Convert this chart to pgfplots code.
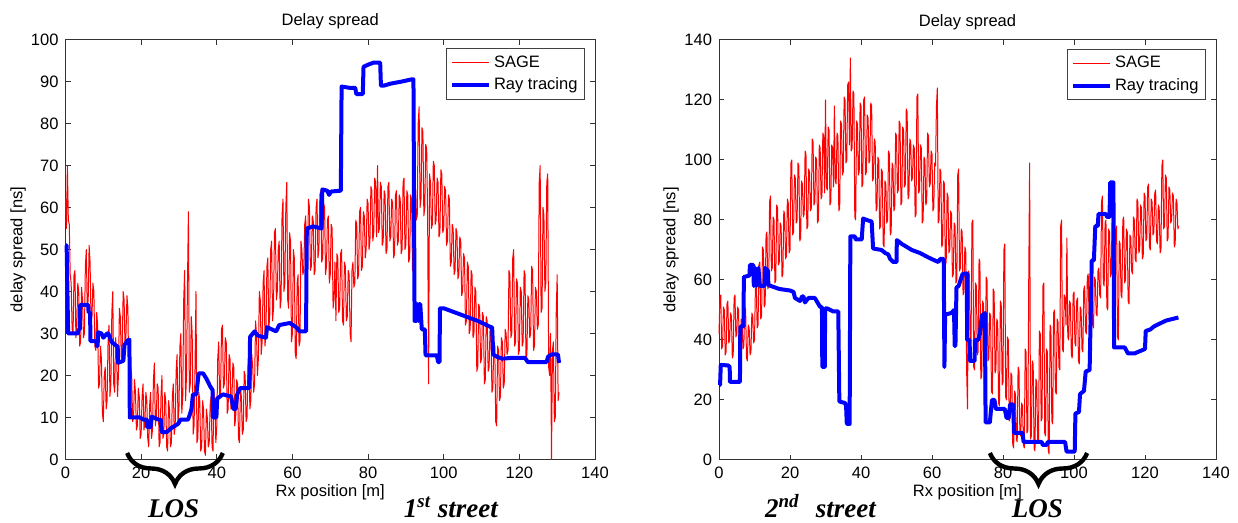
\documentclass[border=0pt]{standalone}
\usepackage{fontspec}
\setmainfont{Liberation Sans}
\newfontfamily\timesfont{Liberation Serif}
\usepackage{pgfplots}
\pgfplotsset{compat=1.18}
\usetikzlibrary{decorations.pathreplacing}

\pgfplotsset{
  matlab/.style={
    scale only axis,
    height=210pt,
    xmin=0,xmax=140,
    xtick={0,20,...,140},
    tick align=inside,
    major tick length=2.6pt,
    axis line style={black!80, line width=0.5pt},
    every tick/.style={black!80, line width=0.5pt},
    tick label style={font=\fontsize{8.25}{10}\selectfont},
    label style={font=\fontsize{8.25}{10}\selectfont},
    title style={font=\fontsize{8.25}{10}\selectfont, at={(axis description cs:0.5,1)}, anchor=center, yshift=2.9pt},
    xlabel style={at={(axis description cs:0.5,0)}, anchor=center, yshift=-16.3pt},
    /pgf/number format/assume math mode=true,
    clip=false,
    title={Delay spread},
    xlabel={Rx position [m]},
    ylabel={delay spread [ns]},
    legend cell align=left,
    legend style={at={(axis description cs:1,1)}, anchor=north east, xshift=-5pt, yshift=-4.5pt,
      draw=black!75, line width=0.5pt, font=\fontsize{8.25}{10}\selectfont,
      inner xsep=2pt, inner ysep=1.5pt, row sep=0.3pt,
      nodes={inner sep=1.5pt, text height=6.2pt, text depth=1.7pt}},
    legend image code/.code={\draw[#1] (0pt,0pt) -- (18.5pt,0pt);},
  },
  sage/.style={color=red, line width=0.5pt, line join=round},
  ray/.style={color=blue, line width=2pt, line join=round},
}
\tikzset{
  bracestyle/.style={decorate, decoration={brace, amplitude=15.5pt, mirror}, line width=2.2pt, black},
  annot/.style={font=\timesfont\bfseries\itshape\fontsize{13.5}{16}\selectfont, anchor=base},
}

\begin{document}
\begin{tikzpicture}
\useasboundingbox (0pt,0pt) rectangle (619pt,261.5pt);

% ---------------- Left panel: 1st street ----------------
\begin{axis}[matlab,
  at={(32.75pt,31.75pt)}, anchor=south west, width=264.75pt,
  ymin=0, ymax=100, ytick={0,10,...,100},
  ylabel style={at={(axis description cs:-0.0897,0.5)}, anchor=center},
]
\addplot[sage] coordinates {
(0,62)(0.25,55)(0.5,70)(0.75,57)(1,56)(1.25,44)(1.5,42)(1.75,31)(2,30)(2.25,44)(2.5,45)(2.75,29)(3,32)(3.25,42)(3.5,40)(3.75,27)(4,28)(4.25,41)(4.5,38)(4.75,29)
(5,30)(5.25,46)(5.5,50)(5.75,36)(6,38)(6.25,51)(6.5,47)(6.75,33)(7,34)(7.25,42)(7.5,40)(7.75,27)(8,26)(8.25,35)(8.5,32)(8.75,17)(9,18)(9.25,27)(9.5,24)(9.75,11)
(10,9)(10.25,20)(10.5,22)(10.75,12)(11,14)(11.25,28)(11.5,32)(11.75,15)(12,18)(12.25,35)(12.5,40)(12.75,18)(13,16)(13.25,29)(13.5,26)(13.75,15)(14,20)(14.25,36)(14.5,34)(14.75,24)
(15,27)(15.25,40)(15.5,38)(15.75,26)(16,30)(16.25,39)(16.5,36)(16.75,18)(17,14)(17.25,22)(17.5,20)(17.75,9)(18,10)(18.25,19)(18.5,16)(18.75,7)(19,8)(19.25,17)(19.5,15)(19.75,5)
(20,6)(20.25,15)(20.5,18)(20.75,7)(21,9)(21.25,16)(21.5,14)(21.75,5)(22,3)(22.25,13)(22.5,16)(22.75,5)(23,7)(23.25,19)(23.5,23)(23.75,8)(24,10)(24.25,18)(24.5,17)(24.75,3)
(25,4)(25.25,15)(25.5,20)(25.75,5)(26,6)(26.25,16)(26.5,14)(26.75,3)(27,2)(27.25,14)(27.5,12)(27.75,3)(28,4)(28.25,15)(28.5,18)(28.75,6)(29,8)(29.25,21)(29.5,25)(29.75,9)
(30,12)(30.25,27)(30.5,30)(30.75,11)(31,15)(31.25,38)(31.5,45)(31.75,14)(32,20)(32.25,42)(32.5,59)(32.75,16)(33,18)(33.25,34)(33.5,30)(33.75,6)(34,8)(34.25,22)(34.5,40)(34.75,4)
(35,5)(35.25,16)(35.5,14)(35.75,2)(36,3)(36.25,14)(36.5,12)(36.75,2)(37,1)(37.25,12)(37.5,10)(37.75,3)(38,4)(38.25,13)(38.5,15)(38.75,3)(39,2)(39.25,16)(39.5,13)(39.75,4)
(40,8)(40.25,24)(40.5,28)(40.75,15)(41,16)(41.25,31)(41.5,32)(41.75,17)(42,18)(42.25,29)(42.5,28)(42.75,11)(43,12)(43.25,25)(43.5,24)(43.75,12)(44,14)(44.25,23)(44.5,22)(44.75,8)
(45,10)(45.25,19)(45.5,18)(45.75,5)(46,4)(46.25,17)(46.5,15)(46.75,6)(47,7)(47.25,21)(47.5,20)(47.75,9)(48,10)(48.25,22)(48.5,24)(48.75,12)(49,14)(49.25,25)(49.5,22)(49.75,16)
(50,18)(50.25,33)(50.5,30)(50.75,20)(51,24)(51.25,40)(51.5,38)(51.75,25)(52,28)(52.25,42)(52.5,45)(52.75,27)(53,30)(53.25,46)(53.5,48)(53.75,31)(54,34)(54.25,50)(54.5,52)(54.75,33)
(55,36)(55.25,54)(55.5,55)(55.75,38)(56,40)(56.25,50)(56.5,52)(56.75,36)(57,38)(57.25,58)(57.5,62)(57.75,40)(58,42)(58.25,60)(58.5,66)(58.75,38)(59,36)(59.25,54)(59.5,52)(59.75,28)
(60,30)(60.25,50)(60.5,48)(60.75,25)(61,24)(61.25,42)(61.5,44)(61.75,27)(62,28)(62.25,52)(62.5,50)(62.75,44)(63,45)(63.25,56)(63.5,58)(63.75,46)(64,48)(64.25,62)(64.5,60)(64.75,45)
(65,46)(65.25,58)(65.5,57)(65.75,44)(66,45)(66.25,60)(66.5,62)(66.75,48)(67,50)(67.25,63)(67.5,64)(67.75,47)(68,48)(68.25,61)(68.5,60)(68.75,44)(69,46)(69.25,57)(69.5,58)(69.75,42)
(70,44)(70.25,56)(70.5,55)(70.75,36)(71,38)(71.25,47)(71.5,33)(71.75,49)(72,48)(72.25,35)(72.5,36)(72.75,49)(73,50)(73.25,33)(73.5,32)(73.75,47)(74,46)(74.25,33)(74.5,34)(74.75,45)
(75,44)(75.25,30)(75.5,28)(75.75,45)(76,47)(76.25,41)(76.5,42)(76.75,57)(77,56)(77.25,43)(77.5,44)(77.75,59)(78,60)(78.25,45)(78.5,46)(78.75,59)(79,58)(79.25,48)(79.5,50)(79.75,62)
(80,61)(80.25,50)(80.5,52)(80.75,65)(81,64)(81.25,52)(81.5,54)(81.75,67)(82,66)(82.25,53)(82.5,70)(82.75,54)(83,55)(83.25,66)(83.5,65)(83.75,51)(84,52)(84.25,64)(84.5,63)(84.75,49)
(85,50)(85.25,65)(85.5,66)(85.75,52)(86,53)(86.25,62)(86.5,61)(86.75,48)(87,49)(87.25,63)(87.5,64)(87.75,51)(88,52)(88.25,63)(88.5,62)(88.75,49)(89,50)(89.25,66)(89.5,67)(89.75,50)
(90,51)(90.25,64)(90.5,63)(90.75,47)(91,48)(91.25,63)(91.5,62)(91.75,45)(92,46)(92.25,67)(92.5,66)(92.75,57)(93,58)(93.25,80)(93.5,84)(93.75,60)(94,62)(94.25,79)(94.5,78)(94.75,58)
(95,60)(95.25,75)(95.5,74)(95.75,58)(96,18)(96.25,68)(96.5,66)(96.75,55)(97,56)(97.25,71)(97.5,70)(97.75,56)(98,57)(98.25,67)(98.5,66)(98.75,53)(99,54)(99.25,69)(99.5,68)(99.75,54)
(100,55)(100.25,65)(100.5,64)(100.75,51)(101,52)(101.25,63)(101.5,62)(101.75,46)(102,47)(102.25,56)(102.5,55)(102.75,44)(103,45)(103.25,55)(103.5,54)(103.75,43)(104,44)(104.25,53)(104.5,52)(104.75,39)
(105,40)(105.25,49)(105.5,48)(105.75,32)(106,33)(106.25,47)(106.5,46)(106.75,30)(107,31)(107.25,45)(107.5,44)(107.75,29)(108,30)(108.25,41)(108.5,40)(108.75,21)(109,22)(109.25,37)(109.5,36)(109.75,23)
(110,24)(110.25,35)(110.5,34)(110.75,18)(111,19)(111.25,34)(111.5,33)(111.75,21)(112,22)(112.25,31)(112.5,30)(112.75,16)(113,17)(113.25,28)(113.5,27)(113.75,9)(114,8)(114.25,27)(114.5,26)(114.75,14)
(115,15)(115.25,29)(115.5,28)(115.75,17)(116,18)(116.25,31)(116.5,30)(116.75,25)(117,26)(117.25,45)(117.5,44)(117.75,29)(118,30)(118.25,48)(118.5,50)(118.75,27)(119,28)(119.25,43)(119.5,42)(119.75,25)
(120,26)(120.25,41)(120.5,40)(120.75,27)(121,28)(121.25,45)(121.5,44)(121.75,24)(122,25)(122.25,39)(122.5,38)(122.75,29)(123,30)(123.25,46)(123.5,45)(123.75,26)(124,27)(124.25,41)(124.5,40)(124.75,31)
(125,32)(125.25,66)(125.5,70)(125.75,35)(126,36)(126.25,60)(126.5,58)(126.75,40)(127,42)(127.25,66)(127.5,68)(127.75,22)(128,20)(128.25,30)(128.5,0)(128.75,26)(129,28)(129.25,9)(129.5,10)(129.75,35)
(130,44)(130.25,14)(130.5,16)
};
\addlegendentry{SAGE}
\addplot[ray] coordinates {
(0,51)(0.3,51)(0.7,30)(3.3,30)(3.5,31)(3.8,31)(3.9,36.8)(6.0,36.8)(6.1,35)(6.5,35)(6.6,28.2)(8.2,28.2)(8.3,27)(8.5,27)(8.6,30.3)(9.5,30)(10,29)(10.5,29.5)(11,30)(11.3,30)
(12.2,28)(13.5,27)(13.8,27)(13.9,23)(15.3,23.5)(15.6,27.3)(16.6,28.5)(16.9,28.5)(17.0,10)(19.7,10)(20.6,9.5)(21.5,9.5)(21.6,7.7)(22.5,7.7)(22.8,10.2)(24.6,9.5)(25.2,9.5)(25.4,6.5)(26.7,6.5)(28,7.5)
(29.8,8.5)(30.4,9.5)(32.4,9.5)(32.8,10.5)(33.3,12)(33.7,15.5)(34.6,15.5)(35.2,20.5)(36.4,20.5)(37.4,19)(38.2,17.5)(38.9,16.5)(39,10)(39.9,10)(40.1,14.5)(41.6,15.5)(43.8,15)(44.4,12)(45.0,12)(45.4,15.5)
(46.2,17)(48.6,17)(48.8,29.2)(50,30.5)(50.8,29.5)(53,29)(53.3,31.5)(54.5,31)(55.7,30.5)(56.5,32)(59.3,32.5)(61,31.5)(61.9,30.5)(63.6,30.5)(63.8,55)(65.5,55.5)(67.7,55)(67.9,64.3)(69.2,64)(69.7,63)
(70.2,63.8)(72.8,64)(73.0,88.8)(75,88.5)(76.6,88.5)(76.9,87)(78.6,87)(78.8,93.5)(80,94)(81.5,94.5)(83.2,94.5)(83.4,89)(84.1,89)(86,89.5)(89,90)(91.5,90.5)(92,90.5)(92.3,33)(92.8,33)(93,37)
(93.3,33)(93.5,37)(93.8,37)(94.2,31)(95.0,31)(95.2,24.8)(98.2,24.8)(98.5,23.2)(98.9,23.2)(99.0,36)(100,36)(103,35)(106,34)(109,33)(112.5,31.5)(112.8,31.5)(113.1,25)(114,24.5)(115.5,24)(118,24.2)
(121.5,24.2)(122.2,23.2)(127.2,23.2)(127.6,24.5)(128.5,25)(130.2,25)(130.5,23)
};
\addlegendentry{Ray tracing}
\draw[bracestyle] (axis cs:16.3,1.55) -- (axis cs:41.6,1.55);
\node[annot] at (axis cs:28.6,-13.9) {LOS};
\node[annot] at (axis cs:101.9,-13.9) {1\textsuperscript{st} street};
\end{axis}

% ---------------- Right panel: 2nd street ----------------
\begin{axis}[matlab,
  at={(359.5pt,31.5pt)}, anchor=south west, width=248.5pt,
  ymin=0, ymax=140, ytick={0,20,...,140},
  ylabel style={at={(axis description cs:-0.0966,0.5)}, anchor=center},
]
\addplot[sage] coordinates {
(0,42)(0.25,54)(0.5,55)(0.75,37)(1,38)(1.25,51)(1.5,50)(1.75,35)(2,36)(2.25,52)(2.5,53)(2.75,39)(3,40)(3.25,49)(3.5,48)(3.75,34)(4,35)(4.25,54)(4.5,55)(4.75,41)
(5,42)(5.25,51)(5.5,50)(5.75,35)(6,34)(6.25,47)(6.5,46)(6.75,37)(7,38)(7.25,51)(7.5,50)(7.75,34)(8,33)(8.25,45)(8.5,44)(8.75,35)(9,36)(9.25,49)(9.5,48)(9.75,39)
(10,40)(10.25,57)(10.5,58)(10.75,44)(11,45)(11.25,65)(11.5,66)(11.75,47)(12,48)(12.25,71)(12.5,70)(12.75,51)(13,52)(13.25,75)(13.5,76)(13.75,57)(14,58)(14.25,86)(14.5,88)(14.75,63)
(15,64)(15.25,81)(15.5,80)(15.75,59)(16,60)(16.25,85)(16.5,84)(16.75,65)(17,66)(17.25,79)(17.5,78)(17.75,61)(18,62)(18.25,83)(18.5,82)(18.75,67)(19,68)(19.25,87)(19.5,86)(19.75,69)
(20,70)(20.25,99)(20.5,100)(20.75,75)(21,76)(21.25,95)(21.5,94)(21.75,79)(22,80)(22.25,99)(22.5,98)(22.75,73)(23,74)(23.25,93)(23.5,92)(23.75,81)(24,82)(24.25,103)(24.5,102)(24.75,77)
(25,78)(25.25,97)(25.5,96)(25.75,83)(26,84)(26.25,107)(26.5,106)(26.75,85)(27,86)(27.25,101)(27.5,100)(27.75,79)(28,80)(28.25,105)(28.5,104)(28.75,87)(29,88)(29.25,109)(29.5,108)(29.75,89)
(30,120)(30.25,91)(30.5,90)(30.75,111)(31,110)(31.25,85)(31.5,86)(31.75,105)(32,104)(32.25,91)(32.5,118)(32.75,93)(33,92)(33.25,109)(33.5,108)(33.75,83)(34,84)(34.25,113)(34.5,112)(34.75,95)
(35,96)(35.25,121)(35.5,120)(35.75,99)(36,100)(36.25,125)(36.5,126)(36.75,105)(37,134)(37.25,103)(37.5,104)(37.75,123)(38,122)(38.25,81)(38.5,80)(38.75,113)(39,112)(39.25,95)(39.5,96)(39.75,119)
(40,118)(40.25,91)(40.5,92)(40.75,120)(41,121)(41.25,95)(41.5,96)(41.75,115)(42,114)(42.25,99)(42.5,100)(42.75,119)(43,118)(43.25,93)(43.5,94)(43.75,107)(44,106)(44.25,83)(44.5,84)(44.75,101)
(45,100)(45.25,77)(45.5,78)(45.75,97)(46,96)(46.25,72)(46.5,71)(46.75,93)(47,92)(47.25,79)(47.5,80)(47.75,103)(48,102)(48.25,75)(48.5,76)(48.75,99)(49,98)(49.25,83)(49.5,84)(49.75,109)
(50,108)(50.25,89)(50.5,90)(50.75,113)(51,112)(51.25,85)(51.5,86)(51.75,111)(52,110)(52.25,91)(52.5,92)(52.75,117)(53,116)(53.25,87)(53.5,88)(53.75,107)(54,106)(54.25,93)(54.5,94)(54.75,105)
(55,104)(55.25,81)(55.5,82)(55.75,121)(56,122)(56.25,89)(56.5,90)(56.75,105)(57,104)(57.25,79)(57.5,80)(57.75,101)(58,100)(58.25,85)(58.5,86)(58.75,109)(59,108)(59.25,91)(59.5,92)(59.75,103)
(60,102)(60.25,83)(60.5,84)(60.75,99)(61,98)(61.25,118)(61.5,124)(61.75,79)(62,80)(62.25,97)(62.5,96)(62.75,71)(63,72)(63.25,93)(63.5,92)(63.75,65)(64,66)(64.25,89)(64.5,88)(64.75,69)
(65,70)(65.25,83)(65.5,82)(65.75,61)(66,62)(66.25,79)(66.5,78)(66.75,59)(67,60)(67.25,95)(67.5,97)(67.75,63)(68,64)(68.25,77)(68.5,76)(68.75,55)(69,56)(69.25,71)(69.5,70)(69.75,30)
(70,17)(70.25,63)(70.5,62)(70.75,39)(71,40)(71.25,79)(71.5,80)(71.75,31)(72,30)(72.25,59)(72.5,58)(72.75,35)(73,36)(73.25,67)(73.5,66)(73.75,27)(74,28)(74.25,53)(74.5,52)(74.75,21)
(75,20)(75.25,61)(75.5,60)(75.75,33)(76,34)(76.25,49)(76.5,48)(76.75,23)(77,22)(77.25,57)(77.5,56)(77.75,29)(78,30)(78.25,47)(78.5,46)(78.75,19)(79,18)(79.25,53)(79.5,52)(79.75,25)
(80,26)(80.25,70)(80.5,72)(80.75,21)(81,20)(81.25,41)(81.5,40)(81.75,13)(82,14)(82.25,29)(82.5,28)(82.75,5)(83,4)(83.25,23)(83.5,22)(83.75,7)(84,6)(84.25,31)(84.5,30)(84.75,9)
(85,8)(85.25,19)(85.5,18)(85.75,5)(86,4)(86.25,37)(86.5,36)(86.75,9)(87,10)(87.25,60)(87.5,99)(87.75,7)(88,8)(88.25,33)(88.5,32)(88.75,4)(89,3)(89.25,27)(89.5,26)(89.75,7)
(90,6)(90.25,43)(90.5,42)(90.75,13)(91,14)(91.25,58)(91.5,59)(91.75,9)(92,8)(92.25,37)(92.5,36)(92.75,3)(93,2)(93.25,45)(93.5,44)(93.75,13)(94,12)(94.25,49)(94.5,50)(94.75,23)
(95,22)(95.25,47)(95.5,46)(95.75,31)(96,30)(96.25,78)(96.5,80)(96.75,37)(97,36)(97.25,55)(97.5,54)(97.75,45)(98,74)(98.25,41)(98.5,40)(98.75,53)(99,52)(99.25,35)(99.5,34)(99.75,55)
(100,56)(100.25,39)(100.5,38)(100.75,53)(101,54)(101.25,33)(101.5,32)(101.75,51)(102,50)(102.25,37)(102.5,36)(102.75,57)(103,58)(103.25,43)(103.5,42)(103.75,61)(104,62)(104.25,47)(104.5,46)(104.75,65)
(105,66)(105.25,45)(105.5,44)(105.75,61)(106,60)(106.25,49)(106.5,48)(106.75,63)(107,64)(107.25,55)(107.5,54)(107.75,86)(108,88)(108.25,59)(108.5,58)(108.75,79)(109,80)(109.25,51)(109.5,50)(109.75,77)
(110,76)(110.25,61)(110.5,62)(110.75,83)(111,84)(111.25,57)(111.5,56)(111.75,77)(112,78)(112.25,41)(112.5,40)(112.75,73)(113,72)(113.25,55)(113.5,54)(113.75,80)(114,81)(114.25,59)(114.5,60)(114.75,77)
(115,76)(115.25,53)(115.5,52)(115.75,75)(116,74)(116.25,63)(116.5,62)(116.75,81)(117,80)(117.25,67)(117.5,66)(117.75,87)(118,86)(118.25,69)(118.5,70)(118.75,85)(119,84)(119.25,67)(119.5,68)(119.75,89)
(120,88)(120.25,73)(120.5,74)(120.75,91)(121,92)(121.25,71)(121.5,70)(121.75,87)(122,86)(122.25,75)(122.5,76)(122.75,89)(123,90)(123.25,73)(123.5,72)(123.75,85)(124,84)(124.25,69)(124.5,70)(124.75,98)
(125,100)(125.25,77)(125.5,78)(125.75,95)(126,94)(126.25,73)(126.5,74)(126.75,91)(127,90)(127.25,79)(127.5,80)(127.75,89)(128,88)(128.25,71)(128.5,72)(128.75,87)(129,86)(129.25,77)(129.5,78)
};
\addlegendentry{SAGE}
\addplot[ray] coordinates {
(0,25)(0.3,25)(0.5,31.7)(2.6,31.5)(3.0,31)(3.1,26)(5.9,26)(6.0,44.5)(6.9,44.5)(7.0,61)(8.6,61.5)(8.7,65)(9.7,65)(9.8,58)(10.2,64)(10.6,58)(11.1,64)(11.5,58)(12.8,58)(13.0,64)
(13.8,63)(13.9,58.3)(17,57)(20,56.5)(21,56)(21.4,54)(22.8,53)(23.4,54.5)(23.8,54.5)(24.2,52.5)(25.2,54)(27,54)(27.5,53)(28.5,51)(29.0,51)(29.1,31)(29.8,31)(29.9,50.5)(30.5,50.5)(32.2,49.5)
(33.6,49.5)(33.9,19.5)(35.5,19)(35.8,18)(36,12)(36.8,12)(37,74.5)(38.3,74.5)(38.5,73.5)(40.2,73.5)(40.6,80.5)(41.6,80)(43,79.5)(43.4,70.5)(45.8,70)(46.8,69)(47.7,68.5)(48.2,67)(49.1,66)(50,66)
(50.1,73.3)(51.5,72)(52.9,71)(54.3,70)(56.6,69)(59,67.5)(60.8,66.5)(61.8,66)(62.3,67)(63.3,67)(63.5,31)(63.7,48.5)(65.5,49)(66.2,50)(66.4,38)(66.6,38)(66.9,57.5)(67.5,58)(68.6,62)(69.8,62.2)
(69.9,40)(70.6,40)(70.7,33)(72,33)(72.1,40)(73,40)(73.5,42)(74,48)(74.9,49)(75.1,12.5)(76.3,12.5)(76.6,16.5)(76.9,20)(77.6,20)(78,17)(80.5,17)(81,14)(81.6,14)(82,18.5)(82.9,18.5)
(83.1,9)(85.5,9)(85.8,6)(90.9,6)(91.2,5)(92.3,5)(92.6,6)(97.5,6)(97.9,2.8)(100.2,2.8)(100.4,15.5)(101.4,16)(101.7,22)(102.8,23)(103.3,29.5)(104.4,30)(105,66.5)(105.6,66.5)(106,78)(106.7,78)
(106.9,82)(109,82)(109.3,81)(110,81)(110.2,92.5)(111.1,92.5)(111.3,37.5)(114.3,37.5)(115.2,35.5)(117,35.5)(119,36.5)(120,37)(120.2,43)(121.5,43.5)(122.5,44.5)(124.2,45.5)(126,46.5)(129.4,47.5)
};
\addlegendentry{Ray tracing}
\draw[bracestyle] (axis cs:76.3,2.33) -- (axis cs:103.7,2.33);
\node[annot] at (axis cs:28.6,-19.33) {2\textsuperscript{nd}\hspace{0.6em}street};
\node[annot] at (axis cs:89.7,-19.33) {LOS};
\end{axis}
\end{tikzpicture}
\end{document}
